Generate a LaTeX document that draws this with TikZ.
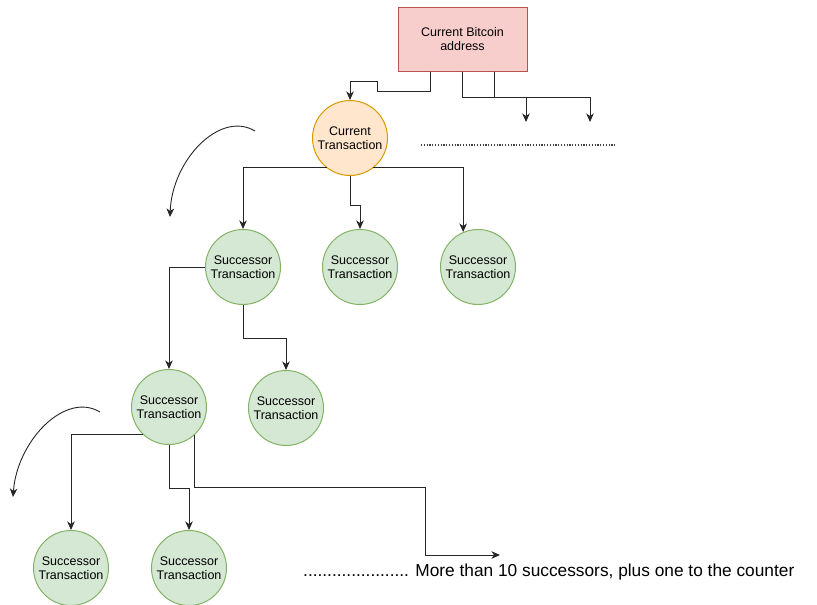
\documentclass[tikz,border=0pt]{standalone}
\usepackage{fontspec}
\setmainfont{Liberation Sans}
\usetikzlibrary{arrows.meta}
\definecolor{addrfill}{HTML}{F8CECC}
\definecolor{addrline}{HTML}{B85450}
\definecolor{curfill}{HTML}{FFE6CC}
\definecolor{curline}{HTML}{D79B00}
\definecolor{sucfill}{HTML}{D5E8D4}
\definecolor{sucline}{HTML}{82B366}
\tikzset{
  nodetext/.style={align=center, font=\fontsize{12.5}{14.5}\selectfont},
  addrbox/.style={nodetext, draw=addrline, fill=addrfill, line width=1pt, minimum width=129pt, minimum height=64pt},
  curtx/.style={nodetext, circle, draw=curline, fill=curfill, line width=1pt, minimum size=75pt, inner sep=0pt},
  suctx/.style={nodetext, circle, draw=sucline, fill=sucfill, line width=1pt, minimum size=75pt, inner sep=0pt},
  link/.style={draw=black!85, line width=1pt},
  arr/.style={link, -{Stealth[length=8.5pt,width=7.5pt,inset=2.5pt]}},
}
\begin{document}
\begin{tikzpicture}[x=1pt,y=-1pt]
\useasboundingbox (0,0) rectangle (817,605);

% nodes
\node[addrbox] (addr) at (462.5,39) {Current Bitcoin\\address};
\node[curtx] (ct) at (350,138) {Current\\Transaction};
\node[suctx] (s1) at (243,267) {Successor\\Transaction};
\node[suctx] (s2) at (360,267) {Successor\\Transaction};
\node[suctx] (s3) at (478,267) {Successor\\Transaction};
\node[suctx] (s4) at (169,407) {Successor\\Transaction};
\node[suctx] (s5) at (286,408) {Successor\\Transaction};
\node[suctx] (s6) at (71,568) {Successor\\Transaction};
\node[suctx] (s7) at (189,568) {Successor\\Transaction};
\node[anchor=west, inner sep=0pt, font=\fontsize{17.3}{19}\selectfont] (more) at (303,572)
  {...................... More than 10 successors, plus one to the counter};

% free ends
\coordinate (o1) at (526,122);
\coordinate (o2) at (590,122);
\coordinate (dotA) at (421,145);
\coordinate (dotB) at (615,145);
\coordinate (m) at (500,555);
\coordinate (c1a) at (255,131);
\coordinate (c1b) at (170,217);
\coordinate (c2a) at (100,412);
\coordinate (c2b) at (13,497);

% address to current transaction
\draw[arr] ([xshift=-32.5pt]addr.south) -- ++(0,20) -- ++(-53,0) -- ++(0,-10) -| (ct.north);
% other transactions of the address
\draw[arr] ([xshift=-0.5pt]addr.south) -- ++(0,26) -| (o2);
\draw[link] ([xshift=31.5pt]addr.south) -- ++(0,26);
\draw[arr] (o1 |- 0,97) -- (o1);
\draw[link, line width=1.2pt, dash pattern=on 1.2pt off 1.6pt, black!75] (dotA) -- (dotB);

% current transaction to successors
\draw[arr] (ct.-128) -| (s1.north);
\draw[arr] (ct.south) -- ++(0,29) -| (s2.north);
\draw[arr] (ct.-52) -| (s3.113);

% successors of the first successor
\draw[arr] (s1.west) -| (s4.north);
\draw[arr] (s1.south) -- ++(0,33) -| (s5.north);

% successors of the second level
\draw[arr] (s4.-133) -| (s6.north);
\draw[arr] (s4.south) -- ++(0,43) -| (s7.north);
\draw[arr] (s4.-47) |- (425,487) -- (425,555) -- (m);

% traversal direction
\draw[arr, line width=0.9pt] (c1a) .. controls (220,110) and (172,160) .. (c1b);
\draw[arr, line width=0.9pt] (c2a) .. controls (65,391) and (17,441) .. (c2b);
\end{tikzpicture}
\end{document}
